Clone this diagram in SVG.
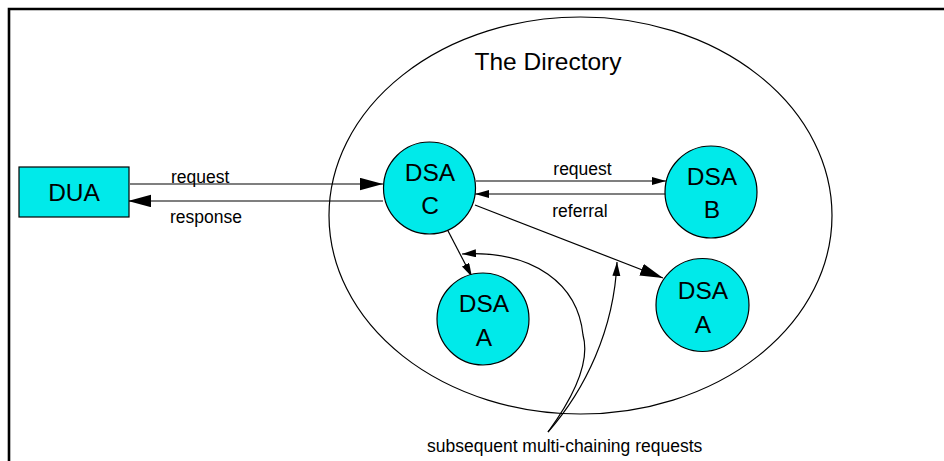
<svg xmlns="http://www.w3.org/2000/svg" width="944" height="461" viewBox="0 0 944 461">
<style>
.node{fill:#00EAEA;stroke:#000;stroke-width:1.2}
.big{font-family:"Liberation Sans",Arial,sans-serif;font-size:24.5px;fill:#000;text-anchor:middle}
.lbl{font-family:"Liberation Sans",Arial,sans-serif;font-size:17.5px;fill:#000}
.con{fill:none;stroke:#000;stroke-width:1.2}
.frame{stroke:#000;stroke-width:2.6;fill:none}
</style>
<defs>
<marker id="big" markerUnits="userSpaceOnUse" markerWidth="24" markerHeight="13" refX="23" refY="6.2" orient="auto">
<path d="M0,0 L23,6.2 L0,12.4 z" fill="#000"/>
</marker>
<marker id="small" markerUnits="userSpaceOnUse" markerWidth="15" markerHeight="9" refX="14" refY="4" orient="auto">
<path d="M0,0 L14,4 L0,8 z" fill="#000"/>
</marker>
</defs>
<rect width="944" height="461" fill="#fff"/>
<path class="frame" d="M9,461 V9 H944"/>
<g id="directory">
<ellipse cx="580.5" cy="215.5" rx="251.5" ry="198.5" fill="none" stroke="#000" stroke-width="1.2"/>
<text class="big" x="548" y="70" font-size="24">The Directory</text>
</g>
<g id="connectors">
<path class="con" d="M130,184 H383" marker-end="url(#big)"/>
<path class="con" d="M383,201 H128" marker-end="url(#big)"/>
<path class="con" d="M476,181 H666" marker-end="url(#small)"/>
<path class="con" d="M666,194 H475" marker-end="url(#small)"/>
<path class="con" d="M475,205 L663,278" marker-end="url(#big)"/>
<path class="con" d="M446,227 L472,277" marker-end="url(#small)"/>
<path class="con" d="M548,432 C575,395 590,360 583,335 C578,285 535,250 462,254" marker-end="url(#small)"/>
<path class="con" d="M548,432 C585,390 614,330 617,262" marker-end="url(#small)"/>
<text class="lbl" x="171" y="182.5">request</text>
<text class="lbl" x="170" y="222.5">response</text>
<text class="lbl" x="582.5" y="175" text-anchor="middle">request</text>
<text class="lbl" x="580" y="217" text-anchor="middle">referral</text>
<text class="lbl" x="427" y="451.5">subsequent multi-chaining requests</text>
</g>
<g id="dua">
<rect class="node" x="19" y="167" width="110" height="50"/>
<text class="big" x="74" y="201">DUA</text>
</g>
<g id="dsa-c">
<circle class="node" cx="429.5" cy="188" r="46"/>
<text class="big" x="430" y="181">DSA</text>
<text class="big" x="430" y="214">C</text>
</g>
<g id="dsa-b">
<circle class="node" cx="711" cy="192" r="46"/>
<text class="big" x="712" y="185">DSA</text>
<text class="big" x="712" y="218">B</text>
</g>
<g id="dsa-a-left">
<circle class="node" cx="483" cy="319" r="46"/>
<text class="big" x="484" y="312">DSA</text>
<text class="big" x="484" y="346">A</text>
</g>
<g id="dsa-a-right">
<circle class="node" cx="702.5" cy="305" r="46.5"/>
<text class="big" x="703" y="299">DSA</text>
<text class="big" x="703" y="333">A</text>
</g>
</svg>
